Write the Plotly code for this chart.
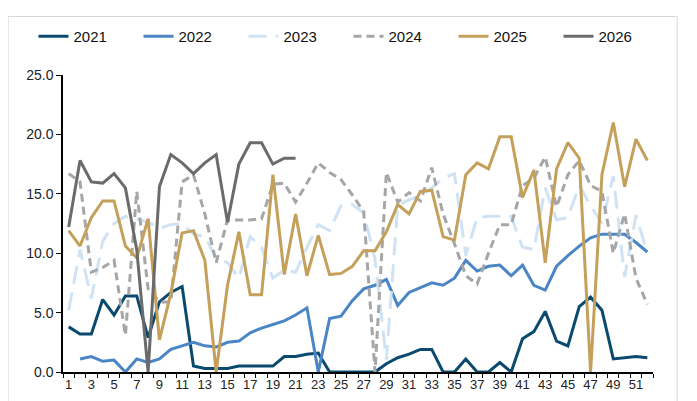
import plotly.graph_objects as go

weeks = list(range(1, 53))

y2021 = [3.8, 3.2, 3.2, 6.1, 4.8, 6.4, 6.4, 2.9, 5.9, 6.7, 7.2, 0.5, 0.3, 0.3, 0.3, 0.5, 0.5, 0.5, 0.5, 1.3,
         1.3, 1.5, 1.6, 0.0, 0.0, 0.0, 0.0, 0.0, 0.7, 1.2, 1.5, 1.9, 1.9, 0.0, 0.0, 1.1, 0.0, 0.0, 0.8, 0.0,
         2.8, 3.4, 5.1, 2.6, 2.2, 5.5, 6.3, 5.2, 1.1, 1.2, 1.3, 1.2]
y2022 = [None, 1.1, 1.3, 0.9, 1.0, 0.0, 1.1, 0.8, 1.1, 1.9, 2.2, 2.5, 2.2, 2.1, 2.5, 2.6, 3.3, 3.7, 4.0, 4.3,
         4.8, 5.4, 0.0, 4.5, 4.7, 6.0, 7.0, 7.3, 7.8, 5.6, 6.7, 7.1, 7.5, 7.3, 7.9, 9.4, 8.5, 8.9, 9.0, 8.1,
         9.0, 7.3, 6.9, 8.9, 9.8, 10.6, 11.3, 11.6, 11.6, 11.6, 10.9, 10.1]
y2023 = [5.2, 10.3, 6.2, 11.0, 12.5, 13.1, 12.9, 12.6, 12.1, 12.4, 12.5, 11.6, 11.4, 9.6, 9.2, 7.9, 11.4, 10.5, 7.9, 8.6,
         8.4, 10.5, 12.4, 11.9, 14.0, 14.1, 13.4, 9.5, 1.0, 14.0, 14.5, 14.8, 15.5, 16.3, 16.7, 9.8, 13.0, 13.1, 13.1, 13.1,
         10.5, 10.3, 15.5, 12.8, 13.0, 15.7, 14.0, 12.5, 16.5, 8.0, 13.2, 10.0]
y2024 = [16.7, 16.0, 8.4, 8.8, 9.4, 3.1, 15.2, 7.0, 5.9, 5.9, 16.0, 16.6, 13.3, 9.2, 12.8, 12.8, 12.8, 12.9, 15.8, 15.9,
         14.3, 15.9, 17.6, 16.8, 16.2, 14.9, 13.5, 0.0, 16.8, 14.3, 15.1, 14.4, 17.2, 13.3, 10.8, 8.1, 7.4, 10.0, 12.4, 12.4,
         15.7, 16.3, 18.1, 13.9, 16.6, 17.8, 15.7, 15.2, 10.0, 13.3, 7.9, 5.7]
y2025 = [11.9, 10.6, 13.0, 14.4, 14.4, 10.6, 9.6, 12.9, 2.7, 6.6, 11.7, 11.9, 9.4, 0.0, 7.3, 11.8, 6.5, 6.5, 16.6, 8.2,
         13.3, 8.1, 11.5, 8.2, 8.3, 8.9, 10.2, 10.2, 11.8, 14.1, 13.3, 15.2, 15.3, 11.4, 11.1, 16.6, 17.6, 17.1, 19.8, 19.8,
         14.7, 17.0, 9.2, 17.1, 19.3, 18.0, 0.0, 16.6, 21.0, 15.6, 19.6, 17.8]
y2026 = [12.2, 17.8, 16.0, 15.9, 16.7, 15.5, 10.3, 0.0, 15.6, 18.3, 17.6, 16.7, 17.6, 18.3, 12.6, 17.5, 19.3, 19.3, 17.5, 18.0,
         18.0]

series = [
    ('2021', y2021, '#0B4A6F', 'solid'),
    ('2022', y2022, '#4A86C5', 'solid'),
    ('2023', y2023, '#CFE3F4', '18px,9px'),
    ('2024', y2024, '#A6A6A6', '8px,5px'),
    ('2025', y2025, '#C4A05A', 'solid'),
    ('2026', y2026, '#6B6B6B', 'solid'),
]

fig = go.Figure()
for name, vals, colour, dash in series:
    fig.add_trace(go.Scatter(
        x=weeks[:len(vals)],
        y=vals,
        name=name,
        mode='lines',
        line={'color': colour, 'width': 3, 'dash': dash},
    ))

# light grey chart-area border
fig.add_shape(type='rect', xref='paper', yref='paper',
              x0=-0.093, x1=1.041, y0=-0.2, y1=1.197,
              line={'color': '#D9D9D9', 'width': 1}, layer='below')

# the page body adds an 8px offset, so margins are shifted to compensate
fig.update_layout(
    width=697,
    height=401,
    margin={'l': 55, 'r': 52, 't': 59, 'b': 37},
    paper_bgcolor='white',
    plot_bgcolor='white',
    font={'family': 'Liberation Sans, Arial, sans-serif', 'size': 14, 'color': '#222222'},
    showlegend=True,
    legend={
        'orientation': 'h',
        'x': -0.05,
        'xanchor': 'left',
        'y': 1.185,
        'yanchor': 'top',
        'font': {'size': 15, 'color': '#111111'},
        'entrywidth': 60,
        'bgcolor': 'rgba(0,0,0,0)',
    },
    xaxis={
        'range': [0.5, 52.5],
        'tickvals': list(range(1, 53, 2)),
        'ticktext': [str(w) for w in range(1, 53, 2)],
        'ticks': '',
        'showline': True,
        'linecolor': 'black',
        'linewidth': 1.5,
        'showgrid': False,
        'zeroline': False,
        'automargin': False,
        'tickfont': {'size': 13},
        'minor': {'tick0': 0.5, 'dtick': 1, 'ticks': 'outside', 'ticklen': 4,
                  'tickcolor': 'black', 'showgrid': False},
    },
    yaxis={
        'range': [0, 25],
        'tickvals': [0, 5, 10, 15, 20, 25],
        'tickformat': '.1f',
        'ticks': 'outside',
        'ticklen': 5,
        'tickcolor': 'black',
        'showline': True,
        'linecolor': 'black',
        'linewidth': 1.5,
        'showgrid': False,
        'zeroline': False,
        'automargin': False,
        'tickfont': {'size': 14},
    },
)

fig.write_html('out.html')
